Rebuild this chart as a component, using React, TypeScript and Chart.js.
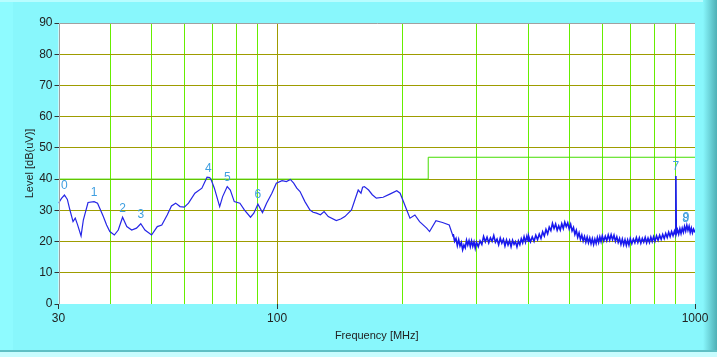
import React, { useEffect, useRef } from 'react';
import { Chart, registerables } from 'chart.js';
Chart.register(...registerables);

// ---- data ----
const smoothFreqs = [
  30, 30.5, 31.0, 31.5, 31.95, 32.5, 32.9, 33.3, 33.97, 34.4, 35.3, 36.5, 37.2, 38.4, 39.1, 39.8, 40.8, 41.7, 42.7, 43.7,
  44.9, 46.1, 47.2, 48.3, 50.1, 51.7, 53.0, 54.6, 55.9, 57.2, 58.6, 60.0, 61.4, 63.6, 66.1, 68.0, 69.0, 69.6, 70.8, 72.9,
  74.1, 76.0, 77.3, 79.0, 81.5, 83.6, 86.4, 88.0, 90.0, 92.3, 94.4, 97.2, 99.6, 102.8, 105.3, 107.6, 109.6, 111.5, 113.5, 116.6,
  119.9, 122, 124.3, 127, 129.6, 132.6, 138.6, 142, 145.3, 150.7, 153.5, 156.4, 158.8, 160.2, 161.8, 165.6, 169, 172.8, 179.4, 186.1,
  193.4, 197, 200.6, 204.3, 208, 213.7, 219.3, 228, 231.7, 240, 248.8, 258.2, 263.8,
];
const smoothLevels = [
  32.3, 33.8, 34.9, 33.5, 30.1, 26.4, 27.5, 25.5, 21.8, 26.9, 32.5, 32.8, 32.3, 28.0, 25.3, 23.2, 22.1, 23.7, 27.8, 24.8,
  23.7, 24.3, 25.7, 23.7, 22.1, 24.8, 25.3, 28.5, 31.4, 32.3, 31.2, 31.0, 32.3, 35.5, 37.1, 40.6, 40.5, 39.7, 37.1, 31.2,
  34.4, 37.6, 36.5, 32.8, 32.3, 30.1, 27.8, 29.1, 32.0, 29.3, 32.3, 35.5, 38.7, 39.5, 39.2, 39.9, 38.7, 37.1, 36.0, 32.8,
  30.1, 29.4, 29.1, 28.6, 29.6, 28.0, 26.7, 27.2, 28.0, 30.1, 33.3, 36.5, 35.5, 37.4, 37.6, 36.5, 35.0, 33.9, 34.2, 35.2,
  36.3, 35.5, 32.8, 30.1, 27.5, 28.5, 26.4, 24.3, 23.2, 26.7, 26.1, 25.3, 21.6,
];

const noiseFreqs = [
  263.8, 264, 266, 268, 270, 272, 274, 276, 278, 280, 282, 284, 286, 288, 290, 292, 294, 296, 298,
  300, 303, 306, 309, 312, 315, 318, 321, 324, 327, 330, 333, 336, 339, 342, 345, 348, 351, 354, 357,
  360, 363, 366, 369, 372, 375, 378, 381, 384, 387, 390, 393, 396, 399,
  400, 404, 408, 412, 416, 420, 424, 428, 432, 436, 440, 444, 448, 452, 456, 460, 464, 468, 472, 476, 480, 484, 488, 492, 496,
  500, 504, 508, 512, 516, 520, 524, 528, 532, 536, 540, 544, 548, 552, 556, 560, 564, 568, 572, 576, 580, 584, 588, 592, 596,
  600, 605, 610, 615, 620, 625, 630, 635, 640, 645, 650, 655, 660, 665, 670, 675, 680, 685, 690, 695,
  700, 706, 712, 718, 724, 730, 736, 742, 748, 754, 760, 766, 772, 778, 784, 790, 796,
  802, 809, 816, 823, 830, 837, 844, 851, 858, 865, 872, 879, 886, 893, 898, 900, 902, 908, 914, 920, 926, 932, 938, 944,
  950, 956, 962, 968, 974, 980, 986, 992, 1000,
];
const noiseLevels = [
  21.6, 22.4, 20.1, 21.0, 18.7, 20.6, 18.6, 19.7, 17.4, 18.9, 18.0, 20.4, 18.9, 20.3, 18.4, 20.2, 18.5, 19.9, 17.9,
  19.8, 18.4, 20.2, 19.1, 21.6, 19.9, 21.4, 19.6, 21.2, 20.1, 21.9, 19.8, 20.8, 19.0, 21.1, 19.5, 20.7, 18.6, 20.5, 18.9,
  20.3, 18.4, 20.4, 19.1, 20.0, 18.3, 20.2, 19.0, 20.9, 19.6, 21.5, 19.8, 21.7, 20.1,
  21.7, 19.9, 21.5, 20.1, 22.0, 20.6, 22.4, 21.0, 23.1, 21.8, 23.9, 22.5, 24.6, 23.5, 25.8, 24.2, 25.6, 23.6, 25.0, 23.7, 25.7, 24.2, 26.2, 24.8, 26.0,
  24.1, 25.5, 23.4, 24.5, 22.3, 23.6, 21.4, 22.8, 20.7, 22.1, 20.2, 21.6, 19.8, 21.4, 19.6, 21.1, 19.3, 20.9, 19.1, 20.8, 19.4, 21.3, 19.7, 21.5, 20.0,
  21.8, 20.2, 21.7, 20.3, 22.1, 20.5, 22.2, 20.6, 22.0, 20.1, 21.5, 19.7, 21.0, 19.1, 20.8, 19.0, 20.6, 18.8, 20.5, 18.9,
  20.9, 19.3, 20.8, 19.6, 21.3, 19.7, 21.2, 19.5, 21.0, 19.8, 21.3, 19.6, 21.1, 19.7, 21.4, 20.0, 21.5,
  20.1, 21.8, 20.4, 22.0, 20.7, 22.3, 21.0, 22.6, 21.3, 23.0, 21.6, 23.2, 21.9, 23.4, 22.3, 41.0, 22.5, 23.8, 22.4, 24.1, 22.6, 24.3, 23.0, 24.8,
  23.4, 25.2, 23.6, 24.9, 22.9, 24.3, 22.8, 24.0, 22.9,
];

const limitFreqs = [30, 230, 230, 1000];
const limitLevels = [40, 40, 47, 47];

const markerNames = ['0', '1', '2', '3', '4', '5', '6', '7', '9', '8'];
const markerFreqs = [31.0, 36.5, 42.7, 47.2, 68.5, 76.0, 90.0, 900, 952, 950];
const markerLevels = [34.9, 32.8, 27.8, 25.7, 40.6, 37.6, 32.0, 41.0, 24.8, 24.5];

const gridFreqs = [30, 40, 50, 60, 70, 80, 90, 100, 200, 300, 400, 500, 600, 700, 800, 900, 1000];
const xLabelFreqs = [30, 100, 1000];
const yMin = 0;
const yMax = 90;
const yStep = 10;

const xTitle = 'Frequency [MHz]';
const yTitle = 'Level [dB(uV)]';

// ---- styles ----
const CYAN = '#88f7fc';
const OLIVE = '#9e9c00';
const GREEN = '#66ee00';
const LIMIT_GREEN = '#44dd00';
const TRACE = '#2626e6';
const NOISE = '#1818ee';
const MARKER = '#3f9fe0';
const FONT = "'Liberation Sans', Arial, sans-serif";

const framePlugin = {
  id: 'frame',
  beforeDraw(chart: any) {
    const { ctx, width, height, chartArea } = chart;
    ctx.save();
    ctx.fillStyle = CYAN;
    ctx.fillRect(0, 0, width, height);
    ctx.fillStyle = '#8efbff';
    ctx.fillRect(0, 0, 13, height);
    ctx.fillStyle = '#b8fdff';
    ctx.fillRect(0, 0, width, 2);
    const g = ctx.createLinearGradient(703, 0, width, 0);
    g.addColorStop(0, CYAN);
    g.addColorStop(1, '#4fb0b6');
    ctx.fillStyle = g;
    ctx.fillRect(703, 0, width - 703, height);
    ctx.fillStyle = '#5fbfc4';
    ctx.fillRect(0, 350, width, 2);
    ctx.fillStyle = '#c8fdff';
    ctx.fillRect(0, 352, width, height - 352);
    ctx.fillStyle = '#ffffff';
    ctx.fillRect(chartArea.left, chartArea.top, chartArea.right - chartArea.left, chartArea.bottom - chartArea.top);
    ctx.restore();
  },
  afterDatasetsDraw(chart: any) {
    const { ctx, chartArea, scales } = chart;
    ctx.save();
    ctx.fillStyle = MARKER;
    ctx.font = `12px ${FONT}`;
    ctx.textAlign = 'center';
    ctx.textBaseline = 'bottom';
    for (let i = 0; i < markerNames.length; i++) {
      const x = scales.x.getPixelForValue(markerFreqs[i]);
      const y = scales.y.getPixelForValue(markerLevels[i]);
      ctx.fillText(markerNames[i], x, y - 3);
    }
    ctx.strokeStyle = '#a0a0a0';
    ctx.lineWidth = 1;
    ctx.beginPath();
    ctx.moveTo(Math.round(chartArea.left) + 0.5, chartArea.bottom);
    ctx.lineTo(Math.round(chartArea.left) + 0.5, Math.round(chartArea.top) + 0.5);
    ctx.lineTo(chartArea.right, Math.round(chartArea.top) + 0.5);
    ctx.stroke();
    ctx.fillStyle = '#222222';
    ctx.font = `11px ${FONT}`;
    ctx.textAlign = 'center';
    ctx.textBaseline = 'middle';
    ctx.fillText(xTitle, (chartArea.left + chartArea.right) / 2, 336);
    ctx.translate(30, (chartArea.top + chartArea.bottom) / 2);
    ctx.rotate(-Math.PI / 2);
    ctx.fillText(yTitle, 0, 0);
    ctx.restore();
  },
};

export default function App() {
  const ref = useRef<HTMLCanvasElement | null>(null);
  useEffect(() => {
    if (!ref.current) return;
    const smooth = smoothFreqs.map((f, i) => ({ x: f, y: smoothLevels[i] }));
    const noise = noiseFreqs.map((f, i) => ({ x: f, y: noiseLevels[i] }));
    const limit = limitFreqs.map((f, i) => ({ x: f, y: limitLevels[i] }));
    const chart = new Chart(ref.current, {
      type: 'line',
      data: {
        datasets: [
          { data: smooth, borderColor: TRACE, borderWidth: 1.2, pointRadius: 0, tension: 0, order: 0 },
          { data: noise, borderColor: NOISE, borderWidth: 1.6, pointRadius: 0, tension: 0, order: 0 },
          { data: limit, borderColor: LIMIT_GREEN, borderWidth: 1, pointRadius: 0, tension: 0, order: 2 },
        ],
      },
      options: {
        responsive: false,
        animation: false,
        events: [],
        layout: { padding: { left: 0, right: 22, top: 23, bottom: 0 } },
        plugins: { legend: { display: false }, tooltip: { enabled: false } },
        scales: {
          x: {
            type: 'logarithmic',
            min: 30,
            max: 1000,
            afterBuildTicks: (scale: any) => {
              scale.ticks = gridFreqs.map((v) => ({ value: v }));
            },
            afterFit: (scale: any) => {
              scale.height = 53;
            },
            border: { display: false },
            grid: {
              color: (c: any) => {
                const v = c.tick && c.tick.value;
                if (v === 30 || v === 1000) return 'rgba(0,0,0,0)';
                return v === 100 ? OLIVE : GREEN;
              },
              tickColor: (c: any) => (c.tick && xLabelFreqs.includes(c.tick.value) ? '#333333' : 'rgba(0,0,0,0)'),
              tickLength: 5,
              lineWidth: 1,
            },
            ticks: {
              autoSkip: false,
              maxRotation: 0,
              padding: 2,
              color: '#222222',
              font: { family: FONT, size: 12 },
              callback: (v: any) => (xLabelFreqs.includes(Number(v)) ? String(v) : ''),
            },
          },
          y: {
            type: 'linear',
            min: yMin,
            max: yMax,
            afterFit: (scale: any) => {
              scale.width = 58.5;
            },
            border: { display: false },
            grid: {
              color: (c: any) => {
                const v = c.tick && c.tick.value;
                if (v === yMin || v === yMax) return 'rgba(0,0,0,0)';
                return OLIVE;
              },
              tickColor: '#333333',
              tickLength: 4,
              lineWidth: 1,
            },
            ticks: {
              stepSize: yStep,
              padding: 2,
              color: '#222222',
              font: { family: FONT, size: 12 },
            },
          },
        },
      },
      plugins: [framePlugin],
    } as any);
    return () => chart.destroy();
  }, []);
  return (
    <div style={{ position: 'absolute', left: 0, top: 0, width: 717, height: 357 }}>
      <canvas ref={ref} width={717} height={357} style={{ display: 'block', width: 717, height: 357 }} />
    </div>
  );
}
